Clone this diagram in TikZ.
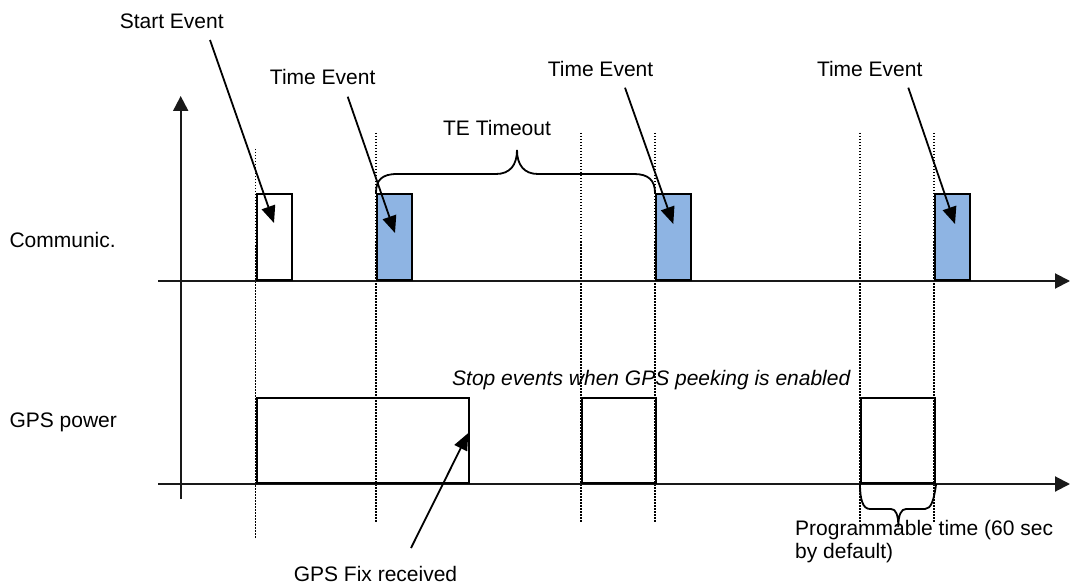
\documentclass[tikz,border=0pt]{standalone}
\usepackage{fontspec}
\setmainfont{Liberation Sans}
\usetikzlibrary{arrows.meta}
\definecolor{pulse}{RGB}{142,180,227}
\tikzset{
  lbl/.style={font=\fontsize{21}{23}\selectfont, inner sep=0pt},
  axis/.style={line width=2pt, black!90},
  axtip/.style={-{Triangle[length=15pt,width=15pt]}},
  guide/.style={line width=1.3pt, dash pattern=on 1.5pt off 1.5pt},
  commbox/.style={draw, line width=2.1pt, inner sep=0pt, anchor=south west, minimum height=86pt},
  gpsbox/.style={draw, line width=2.1pt, inner sep=0pt, anchor=south west, minimum height=85.3pt},
  pointer/.style={line width=1.8pt, -{Triangle[length=17pt,width=14pt]}},
  brace/.style={line width=1.8pt}
}
\begin{document}
\begin{tikzpicture}[x=1pt, y=-1pt]
\useasboundingbox (0,0) rectangle (1070,585);

% dotted time markers
\draw[guide] (255.5,149) -- (255.5,539);
\foreach \gx in {376,581,655,860,934}
  \draw[guide] (\gx,133) -- (\gx,523);

% axes
\coordinate (yb) at (180.7,499);
\coordinate (yt) at (180.7,96);
\coordinate (c0) at (158,281);
\coordinate (c1) at (1070,281);
\coordinate (g0) at (158,484);
\coordinate (g1) at (1070,484);
\draw[axis, axtip] (yb) -- (yt);
\draw[axis, axtip] (c0) -- (c1);
\draw[axis, axtip] (g0) -- (g1);

% communication pulses
\node[commbox, fill=white, minimum width=35.3pt] (s1) at (255.5,281) {};
\node[commbox, fill=pulse, minimum width=35pt] (t1) at (376,281) {};
\node[commbox, fill=pulse, minimum width=35pt] (t2) at (655,281) {};
\node[commbox, fill=pulse, minimum width=35pt] (t3) at (934,281) {};

% GPS power pulses
\node[gpsbox, minimum width=212.8pt] (p1) at (255.5,484) {};
\node[gpsbox, minimum width=74pt] (p2) at (581,484) {};
\node[gpsbox, minimum width=74pt] (p3) at (860,484) {};

% row labels
\node[lbl, anchor=base west] (lc) at (9.3,247.7) {Communic.};
\node[lbl, anchor=base west] (lg) at (9.3,427.7) {GPS power};

% event labels and pointers
\node[lbl, anchor=base] (se) at (171.7,28.3) {Start Event};
\node[lbl, anchor=base] (te1) at (322.7,85) {Time Event};
\node[lbl, anchor=base] (te2) at (600.5,76.5) {Time Event};
\node[lbl, anchor=base] (te3) at (869.7,76.5) {Time Event};
\coordinate (se0) at (210,40);    \coordinate (se1) at (274,223);
\coordinate (ta0) at (347.7,96.7); \coordinate (ta1) at (395,233);
\coordinate (tb0) at (625,87.7);  \coordinate (tb1) at (673.3,224);
\coordinate (tc0) at (908.3,87.7); \coordinate (tc1) at (955,224);
\draw[pointer] (se0) -- (se1);
\draw[pointer] (ta0) -- (ta1);
\draw[pointer] (tb0) -- (tb1);
\draw[pointer] (tc0) -- (tc1);

% TE timeout brace
\node[lbl, anchor=base] (tmo) at (497,136) {TE Timeout};
\draw[brace] (t1.north west) .. controls (376,180) and (382,174) .. (397,174)
  -- (496,174) .. controls (510,174) and (517,165) .. (517,150)
  .. controls (517,165) and (524,174) .. (538,174)
  -- (634,174) .. controls (648,174) and (655,180) .. (t2.north west);

% GPS peeking note
\node[lbl, anchor=base west, font=\fontsize{21}{23}\selectfont\itshape] (stop) at (452,385)
  {Stop events when GPS peeking is enabled};

% GPS fix pointer
\node[lbl, anchor=base] (fix) at (375.5,581.5) {GPS Fix received};
\coordinate (fx0) at (411,548);
\coordinate (fx1) at (468.3,433);
\draw[pointer] (fx0) -- (fx1);

% programmable time brace
\draw[brace] (p3.south west) .. controls (860,500) and (863,509) .. (870,509)
  -- (891,509) .. controls (896,509) and (898.3,515) .. (898.3,527)
  .. controls (898.3,515) and (901,509) .. (906,509)
  -- (925,509) .. controls (931,509) and (934,500) .. (p3.south east);
\node[lbl, anchor=base west, align=left] (prog) at (795,558.3)
  {Programmable time (60 sec\\by default)};
\end{tikzpicture}
\end{document}
